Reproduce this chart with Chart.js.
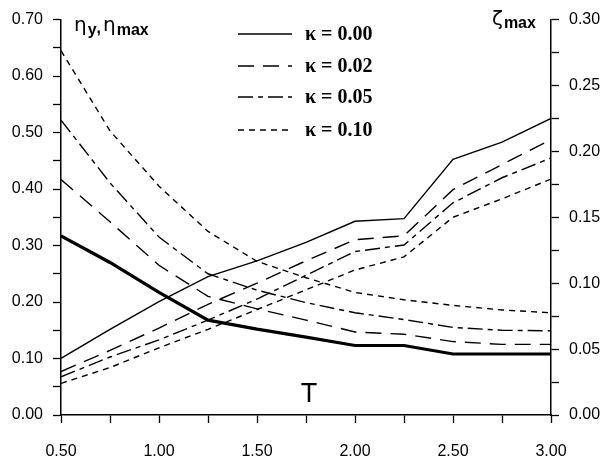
<!DOCTYPE html>
<html>
<head>
<meta charset="utf-8">
<script src="https://cdn.jsdelivr.net/npm/chart.js@4.4.0/dist/chart.umd.min.js"></script>
<style>
    body { margin: 0; background: #fff; }
    #chart-wrap { width: 607px; height: 464px; }
</style>
</head>
<body>
<div id="chart-wrap"><canvas id="etaZetaChart" width="607" height="464"></canvas></div>
<script>
const tValues = [0.50, 0.75, 1.00, 1.25, 1.50, 1.75, 2.00, 2.25, 2.50, 2.75, 3.00];

// left axis: eta_y (thick) and eta_max for kappa > 0
const etaY      = [0.317, 0.270, 0.217, 0.168, 0.152, 0.138, 0.123, 0.123, 0.108, 0.108, 0.108];
const etaMax002 = [0.417, 0.342, 0.265, 0.210, 0.188, 0.168, 0.147, 0.143, 0.130, 0.125, 0.125];
const etaMax005 = [0.522, 0.411, 0.315, 0.250, 0.221, 0.199, 0.181, 0.169, 0.155, 0.150, 0.149];
const etaMax010 = [0.645, 0.503, 0.405, 0.325, 0.272, 0.243, 0.217, 0.204, 0.194, 0.186, 0.181];

// right axis: zeta_max
const zetaMax000 = [0.043, 0.065, 0.086, 0.105, 0.117, 0.131, 0.147, 0.149, 0.194, 0.207, 0.225];
const zetaMax002 = [0.033, 0.049, 0.066, 0.084, 0.100, 0.117, 0.133, 0.136, 0.171, 0.190, 0.209];
const zetaMax005 = [0.029, 0.044, 0.057, 0.072, 0.088, 0.106, 0.124, 0.129, 0.161, 0.180, 0.195];
const zetaMax010 = [0.024, 0.036, 0.051, 0.065, 0.080, 0.095, 0.110, 0.120, 0.150, 0.164, 0.179];

const kappaLabels = ['κ = 0.00', 'κ = 0.02', 'κ = 0.05', 'κ = 0.10'];
const kappaDashes = [[], [16, 9], [15, 5, 5, 5], [6, 5]];

const tickFont = { family: '"Liberation Sans", Arial, sans-serif', size: 16 };

function toPoints(values) {
    return tValues.map((t, i) => ({ x: t, y: values[i] }));
}

function lineDataset(label, values, axis, dash, width) {
    return {
        label: label,
        data: toPoints(values),
        yAxisID: axis,
        borderColor: '#000',
        borderWidth: width || 1.4,
        borderDash: dash,
        pointRadius: 0,
        tension: 0,
        fill: false
    };
}

function isStep(value, step) {
    const r = value / step;
    return Math.abs(r - Math.round(r)) < 1e-6;
}

const paperLabels = {
    id: 'paperLabels',
    afterDraw(chart) {
        const ctx = chart.ctx;
        ctx.save();
        ctx.fillStyle = '#000';
        ctx.textAlign = 'left';
        ctx.textBaseline = 'alphabetic';

        const greek = '20px "DejaVu Sans", sans-serif';
        const sub = 'bold 16px "Liberation Sans", Arial, sans-serif';

        // eta_y , eta_max
        let x = 74;
        ctx.font = greek;
        ctx.fillText('η', x, 31);
        x += ctx.measureText('η').width + 1;
        ctx.font = sub;
        ctx.fillText('y', x, 35);
        x += ctx.measureText('y').width;
        ctx.fillText(',', x, 33);
        x += ctx.measureText(',').width + 2;
        ctx.font = greek;
        ctx.fillText('η', x, 31);
        x += ctx.measureText('η').width + 1;
        ctx.font = sub;
        ctx.fillText('max', x, 35);

        // zeta_max
        x = 492;
        ctx.font = greek;
        ctx.fillText('ζ', x, 25);
        x += ctx.measureText('ζ').width + 1;
        ctx.font = sub;
        ctx.fillText('max', x, 28);

        // T
        ctx.font = '27px "Liberation Sans", Arial, sans-serif';
        ctx.textAlign = 'center';
        ctx.fillText('T', 309, 402);

        // legend
        const rows = [34, 66, 97, 130];
        ctx.strokeStyle = '#000';
        ctx.lineWidth = 1.4;
        ctx.textAlign = 'left';
        ctx.textBaseline = 'middle';
        ctx.font = 'bold 20px "Liberation Serif", "Times New Roman", serif';
        kappaLabels.forEach((label, i) => {
            ctx.setLineDash(kappaDashes[i]);
            ctx.beginPath();
            ctx.moveTo(238, rows[i]);
            ctx.lineTo(292, rows[i]);
            ctx.stroke();
            ctx.fillText(label, 305, rows[i] + 1);
        });
        ctx.restore();
    }
};

const ctx = document.getElementById('etaZetaChart').getContext('2d');
const etaZetaChart = new Chart(ctx, {
    type: 'line',
    data: {
        datasets: [
            lineDataset('η_y', etaY, 'yLeft', [], 3.2),
            lineDataset('η_max κ=0.02', etaMax002, 'yLeft', kappaDashes[1]),
            lineDataset('η_max κ=0.05', etaMax005, 'yLeft', kappaDashes[2]),
            lineDataset('η_max κ=0.10', etaMax010, 'yLeft', kappaDashes[3]),
            lineDataset('ζ_max κ=0.00', zetaMax000, 'yRight', kappaDashes[0]),
            lineDataset('ζ_max κ=0.02', zetaMax002, 'yRight', kappaDashes[1]),
            lineDataset('ζ_max κ=0.05', zetaMax005, 'yRight', kappaDashes[2]),
            lineDataset('ζ_max κ=0.10', zetaMax010, 'yRight', kappaDashes[3])
        ]
    },
    options: {
        responsive: false,
        animation: false,
        layout: { padding: { top: 15, left: 0, right: 0, bottom: 0 } },
        plugins: {
            legend: { display: false },
            tooltip: { enabled: false }
        },
        scales: {
            x: {
                type: 'linear',
                min: 0.5,
                max: 3.0,
                ticks: {
                    stepSize: 0.25,
                    autoSkip: false,
                    maxRotation: 0,
                    padding: 19,
                    color: '#000',
                    font: tickFont,
                    callback: v => isStep(v, 0.5) ? v.toFixed(2) : ''
                },
                grid: { drawOnChartArea: false, tickLength: 8, color: '#000', tickWidth: 1.3 },
                border: { color: '#000', width: 1.5 },
                afterFit: scale => { scale.height = 49; }
            },
            yLeft: {
                type: 'linear',
                position: 'left',
                min: 0,
                max: 0.7,
                ticks: {
                    stepSize: 0.05,
                    autoSkip: false,
                    padding: 10,
                    color: '#000',
                    font: tickFont,
                    callback: v => isStep(v, 0.1) ? v.toFixed(2) : ''
                },
                grid: { drawOnChartArea: false, tickLength: 8, color: '#000', tickWidth: 1.3 },
                border: { color: '#000', width: 1.5 },
                afterFit: scale => { scale.width = 61; }
            },
            yRight: {
                type: 'linear',
                position: 'right',
                min: 0,
                max: 0.3,
                ticks: {
                    stepSize: 0.025,
                    autoSkip: false,
                    padding: 10,
                    color: '#000',
                    font: tickFont,
                    callback: v => isStep(v, 0.05) ? v.toFixed(2) : ''
                },
                grid: { drawOnChartArea: false, tickLength: 8, color: '#000', tickWidth: 1.3 },
                border: { color: '#000', width: 1.5 },
                afterFit: scale => { scale.width = 56; }
            }
        }
    },
    plugins: [paperLabels]
});
</script>
</body>
</html>
